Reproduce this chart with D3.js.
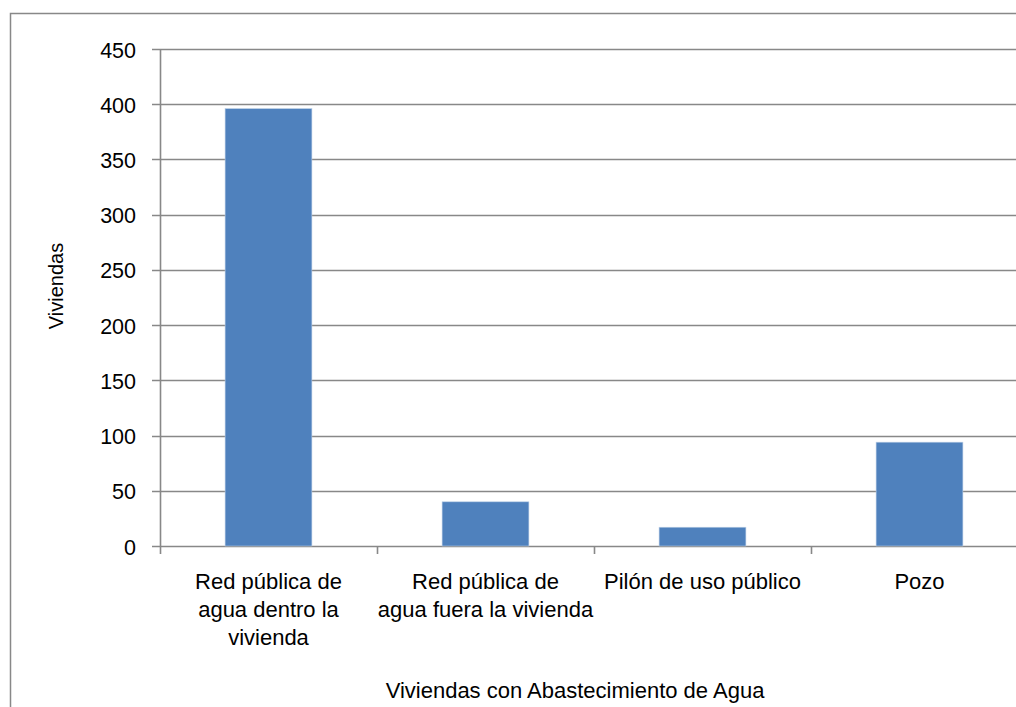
<!DOCTYPE html>
<html>
<head>
<meta charset="utf-8">
<script src="https://cdn.jsdelivr.net/npm/d3@7"></script>
<style>
  html, body { margin: 0; padding: 0; background: #fff; }
  svg { display: block; font-family: "Liberation Sans", Arial, sans-serif; }
</style>
</head>
<body>
<div id="chart"></div>
<script>
// Data
const categories = [
  ['Red pública de', 'agua dentro la', 'vivienda'],
  ['Red pública de', 'agua fuera la vivienda'],
  ['Pilón de uso público'],
  ['Pozo']
];
const values = [396, 40, 17, 94];
const yTicks = [0, 50, 100, 150, 200, 250, 300, 350, 400, 450];
const yTitle = 'Viviendas';
const xTitle = 'Viviendas con Abastecimiento de Agua';

const W = 1016, H = 707;
const plot = { left: 160, right: 1028, top: 49, bottom: 546 };

const svg = d3.select('#chart').append('svg')
  .attr('width', W).attr('height', H);

// outer chart frame (right/bottom edges fall outside the window)
svg.append('rect')
  .attr('x', 10.5).attr('y', 13.5)
  .attr('width', 1040).attr('height', 720)
  .attr('fill', '#fff').attr('stroke', '#888').attr('stroke-width', 1.5);

const x = d3.scaleBand()
  .domain(d3.range(categories.length))
  .range([plot.left, plot.right])
  .paddingInner(0.6).paddingOuter(0.3);

const y = d3.scaleLinear().domain([0, 450]).range([plot.bottom, plot.top]);

// gridlines
svg.append('g')
  .selectAll('line').data(yTicks).join('line')
  .attr('x1', plot.left - 8).attr('x2', plot.right)
  .attr('y1', d => Math.round(y(d)) + 0.5).attr('y2', d => Math.round(y(d)) + 0.5)
  .attr('stroke', '#888').attr('stroke-width', 1.6);

// y axis line
svg.append('line')
  .attr('x1', plot.left + 0.5).attr('x2', plot.left + 0.5)
  .attr('y1', plot.top).attr('y2', plot.bottom)
  .attr('stroke', '#888').attr('stroke-width', 1.6);

// x category ticks
const cw = (plot.right - plot.left) / categories.length;
const xTickPos = d3.range(categories.length + 1).map(i => plot.left + i * cw);
svg.append('g')
  .selectAll('line').data(xTickPos).join('line')
  .attr('x1', d => Math.round(d) + 0.5).attr('x2', d => Math.round(d) + 0.5)
  .attr('y1', plot.bottom).attr('y2', plot.bottom + 8)
  .attr('stroke', '#888').attr('stroke-width', 1.6);

// y tick labels
svg.append('g')
  .selectAll('text').data(yTicks).join('text')
  .attr('x', 136).attr('y', d => y(d))
  .attr('dy', '0.4em')
  .attr('text-anchor', 'end')
  .attr('font-size', 21.5).attr('fill', '#000')
  .text(d => d);

// bars
svg.append('g')
  .selectAll('rect').data(values).join('rect')
  .attr('x', (d, i) => x(i))
  .attr('y', d => y(d))
  .attr('width', x.bandwidth())
  .attr('height', d => y(0) - y(d))
  .attr('fill', '#4f81bd')
  .attr('stroke', '#b9cde5').attr('stroke-width', 0.6);

// category labels
const catG = svg.append('g');
categories.forEach((lines, i) => {
  const cx = plot.left + cw * (i + 0.5);
  const t = catG.append('text')
    .attr('x', cx)
    .attr('y', 589)
    .attr('text-anchor', 'middle')
    .attr('font-size', 22).attr('fill', '#000');
  lines.forEach((s, j) => {
    t.append('tspan')
      .attr('x', cx)
      .attr('dy', j === 0 ? 0 : 28)
      .text(s);
  });
});

// axis titles
svg.append('text')
  .attr('x', 575).attr('y', 698)
  .attr('text-anchor', 'middle')
  .attr('font-size', 22).attr('fill', '#000')
  .text(xTitle);

svg.append('text')
  .attr('transform', 'translate(63,286) rotate(-90)')
  .attr('text-anchor', 'middle')
  .attr('font-size', 20).attr('fill', '#000')
  .text(yTitle);
</script>
</body>
</html>
